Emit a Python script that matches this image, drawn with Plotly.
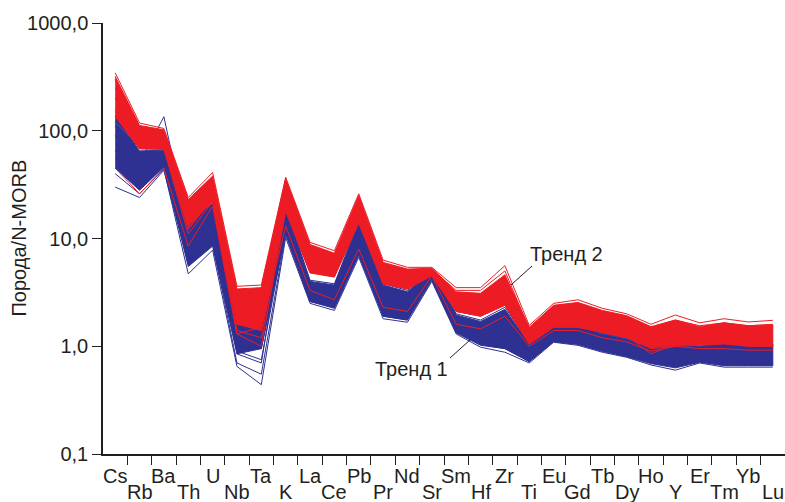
import plotly.graph_objects as go

elements = ["Cs", "Rb", "Ba", "Th", "U", "Nb", "Ta", "K", "La", "Ce", "Pb", "Pr", "Nd", "Sr",
            "Sm", "Hf", "Zr", "Ti", "Eu", "Gd", "Tb", "Dy", "Ho", "Y", "Er", "Tm", "Yb", "Lu"]

y_tick_values = [0.1, 1, 10, 100, 1000]
y_tick_labels = ["0,1", "1,0", "10,0", "100,0", "1000,0"]

# Trend 1 (blue) dense band
blue_hi = [140, 65, 66, 15, 21, 1.75, 1.65, 19, 4.0, 3.7, 14, 3.7, 3.2, 5.2,
           1.95, 1.7, 2.2, 1.05, 1.6, 1.53, 1.3, 1.17, 0.97, 1.05, 1.0, 1.07, 1.0, 1.05]
blue_lo = [45, 28, 46, 5.5, 8.5, 0.85, 0.95, 11, 2.6, 2.25, 7.0, 1.9, 1.75, 4.2,
           1.33, 1.02, 0.95, 0.72, 1.1, 1.04, 0.9, 0.8, 0.69, 0.63, 0.71, 0.66, 0.66, 0.66]
# Trend 1 individual samples
blue_1 = [150, 76, 68, 15.5, 22, 1.85, 1.75, 19.5, 4.1, 3.8, 14.5, 3.8, 3.3, 5.3,
          2.0, 1.75, 2.3, 1.07, 1.63, 1.56, 1.32, 1.19, 0.98, 1.07, 1.02, 1.09, 1.02, 1.07]
blue_2 = [110, 50, 135, 12, 18, 1.5, 1.2, 16, 3.6, 3.2, 12, 3.2, 2.9, 5.0,
          1.8, 1.5, 1.9, 0.95, 1.45, 1.4, 1.18, 1.05, 0.88, 0.92, 0.92, 0.95, 0.9, 0.92]
blue_3 = [90, 42, 58, 10, 15, 1.2, 1.1, 15, 3.3, 2.9, 10.5, 2.8, 2.5, 4.7,
          1.65, 1.35, 1.6, 0.88, 1.35, 1.3, 1.1, 0.98, 0.82, 0.85, 0.86, 0.88, 0.84, 0.86]
blue_4 = [65, 34, 52, 8, 12, 1.0, 0.95, 13, 2.9, 2.6, 9, 2.4, 2.1, 4.4,
          1.5, 1.2, 1.35, 0.8, 1.25, 1.2, 1.0, 0.9, 0.76, 0.75, 0.78, 0.78, 0.75, 0.76]
blue_5 = [40, 26, 44, 4.7, 7.8, 0.65, 0.44, 10.2, 2.5, 2.15, 6.7, 1.8, 1.67, 4.0,
          1.3, 0.98, 0.88, 0.70, 1.09, 1.02, 0.88, 0.79, 0.67, 0.60, 0.70, 0.64, 0.64, 0.64]
blue_6 = [30, 24, 43, 6, 9, 0.7, 0.55, 11, 2.6, 2.3, 7.2, 1.9, 1.75, 4.1,
          1.35, 1.05, 0.95, 0.72, 1.12, 1.05, 0.9, 0.82, 0.7, 0.65, 0.72, 0.68, 0.67, 0.67]
blue_7 = [120, 60, 63, 13, 20, 0.85, 0.7, 17, 3.8, 3.5, 13, 3.5, 3.0, 5.1,
          1.9, 1.6, 2.1, 1.0, 1.55, 1.5, 1.25, 1.12, 0.93, 1.0, 0.97, 1.02, 0.96, 1.0]
blue_8 = [55, 36, 50, 6.5, 10, 0.9, 0.75, 12, 2.8, 2.5, 8, 2.1, 1.9, 4.3,
          1.4, 1.1, 1.1, 0.76, 1.18, 1.1, 0.95, 0.85, 0.72, 0.7, 0.74, 0.72, 0.7, 0.7]
blue_lines = [blue_1, blue_2, blue_3, blue_4, blue_5, blue_6, blue_7, blue_8]

# Trend 2 (red) dense band
red_hi = [320, 112, 102, 23, 38, 3.4, 3.5, 36, 8.8, 7.3, 25, 6.0, 5.2, 5.3,
          3.2, 3.1, 4.6, 1.5, 2.4, 2.55, 2.15, 1.92, 1.52, 1.75, 1.52, 1.65, 1.55, 1.58]
red_lo = [135, 68, 67, 13, 22, 1.6, 1.4, 18, 4.8, 4.4, 14, 3.8, 3.4, 4.6,
          2.1, 1.9, 2.4, 1.05, 1.5, 1.5, 1.35, 1.2, 0.97, 1.02, 1.03, 1.06, 1.0, 1.0]
# Trend 2 individual samples
red_1 = [345, 118, 105, 24, 41, 3.6, 3.7, 37, 9.2, 7.7, 26, 6.3, 5.4, 5.4,
         3.5, 3.5, 5.6, 1.56, 2.5, 2.7, 2.25, 2.0, 1.6, 1.95, 1.65, 1.8, 1.68, 1.74]
red_2 = [300, 105, 95, 20, 34, 3.0, 3.4, 33, 8.3, 7.0, 23, 5.8, 5.0, 5.2,
         3.3, 3.3, 5.0, 1.45, 2.35, 2.5, 2.1, 1.9, 1.5, 1.75, 1.55, 1.65, 1.55, 1.6]
red_3 = [250, 95, 90, 17, 30, 2.5, 2.2, 30, 7.5, 6.2, 21, 5.2, 4.6, 5.0,
         3.0, 2.9, 4.2, 1.35, 2.15, 2.3, 1.9, 1.75, 1.4, 1.6, 1.45, 1.5, 1.45, 1.5]
red_4 = [200, 85, 82, 14, 27, 2.0, 2.8, 26, 6.5, 5.5, 18, 4.6, 4.1, 4.8,
         2.6, 2.5, 3.5, 1.25, 1.95, 2.05, 1.7, 1.55, 1.25, 1.45, 1.3, 1.35, 1.3, 1.35]
red_5 = [160, 75, 75, 12, 24, 1.6, 1.9, 22, 5.6, 4.9, 16, 4.1, 3.7, 4.6,
         2.3, 2.1, 2.9, 1.12, 1.7, 1.75, 1.5, 1.35, 1.1, 1.2, 1.15, 1.2, 1.15, 1.15]
red_6 = [140, 68, 68, 11, 22, 1.3, 1.0, 18, 4.8, 4.4, 14, 3.8, 3.4, 4.5,
         2.1, 1.9, 2.4, 1.05, 1.5, 1.5, 1.35, 1.2, 0.95, 1.0, 1.02, 1.05, 1.0, 1.0]
red_7 = [45, 26, 45, 8.5, 20, 1.3, 1.5, 13, 3.3, 2.7, 8.0, 2.3, 2.1, 4.5,
         1.6, 1.45, 1.9, 1.0, 1.4, 1.4, 1.2, 1.1, 0.9, 1.0, 0.95, 0.95, 0.92, 0.92]
red_8 = [120, 72, 70, 12.5, 23, 1.4, 1.2, 20, 5.0, 4.6, 15, 3.9, 3.5, 4.7,
         2.2, 2.0, 2.6, 1.08, 1.55, 1.55, 1.38, 1.25, 0.85, 1.05, 1.05, 1.08, 1.03, 1.03]
red_lines = [red_1, red_2, red_3, red_4, red_5, red_6, red_7, red_8]

BLUE = "#2e3192"
RED = "#ed1c24"
INK = "#231f20"
FONT = "Liberation Sans, Arial, sans-serif"
FS = 20

idx = list(range(len(elements)))
fig = go.Figure()


def add_group(hi, lo, lines, color):
    fig.add_trace(go.Scatter(
        x=idx + idx[::-1], y=hi + lo[::-1], fill="toself", fillcolor=color,
        mode="lines", line=dict(color=color, width=1), hoverinfo="skip", showlegend=False))
    for ln in lines:
        fig.add_trace(go.Scatter(x=idx, y=ln, mode="lines",
                                 line=dict(color=color, width=1), showlegend=False))


add_group(blue_hi, blue_lo, blue_lines, BLUE)
add_group(red_hi, red_lo, red_lines, RED)

# element labels, alternating rows
annotations = []
for i, el in enumerate(elements):
    annotations.append(dict(x=i, xref="x", y=0, yref="paper", text=el, showarrow=False,
                            xanchor="center", yanchor="middle",
                            yshift=-22 if i % 2 == 0 else -38,
                            font=dict(size=FS, color=INK, family=FONT)))

annotations.append(dict(x=0, xref="paper", xshift=-85, y=0.5, yref="paper",
                        xanchor="center", yanchor="middle",
                        text="Порода/N-MORB", textangle=-90, showarrow=False,
                        font=dict(size=FS, color=INK, family=FONT)))
annotations.append(dict(x=(566 - 103) / 682, xref="paper", y=(454 - 254) / 431, yref="paper",
                        xanchor="center", yanchor="middle",
                        text="Тренд 2", showarrow=False,
                        font=dict(size=FS, color=INK, family=FONT)))
annotations.append(dict(x=(411 - 103) / 682, xref="paper", y=(454 - 369) / 431, yref="paper",
                        xanchor="center", yanchor="middle",
                        text="Тренд 1", showarrow=False,
                        font=dict(size=FS, color=INK, family=FONT)))

shapes = [
    dict(type="line", xref="paper", yref="paper",
         x0=(532 - 103) / 682, y0=(454 - 266) / 431, x1=(511 - 103) / 682, y1=(454 - 285) / 431,
         line=dict(color=INK, width=1)),
    dict(type="line", xref="paper", yref="paper",
         x0=(450 - 103) / 682, y0=(454 - 358) / 431, x1=(470 - 103) / 682, y1=(454 - 340) / 431,
         line=dict(color=INK, width=1)),
]

fig.update_layout(
    width=785, height=502,
    margin=dict(l=103, r=0, t=23, b=48),
    plot_bgcolor="white", paper_bgcolor="white",
    font=dict(family=FONT, size=FS, color=INK),
    annotations=annotations, shapes=shapes,
    xaxis=dict(range=[-0.5, 27.5], showgrid=False, zeroline=False,
               showline=True, linecolor=INK, linewidth=1.5,
               tickmode="array", tickvals=[i + 0.5 for i in idx],
               ticks="outside", ticklen=9, tickcolor=INK, tickwidth=1,
               showticklabels=False),
    yaxis=dict(type="log", range=[-1, 3], showgrid=False, zeroline=False,
               showline=True, linecolor=INK, linewidth=1.5,
               tickmode="array", tickvals=y_tick_values, ticktext=y_tick_labels,
               ticks="outside", ticklen=9, tickcolor=INK, tickwidth=1,
               tickfont=dict(size=FS, color=INK, family=FONT)),
)

fig.write_html("out.html", config={"displayModeBar": False},
               post_script="document.body.style.margin='0';document.body.style.padding='0';"
                           "document.body.style.overflow='hidden';")
